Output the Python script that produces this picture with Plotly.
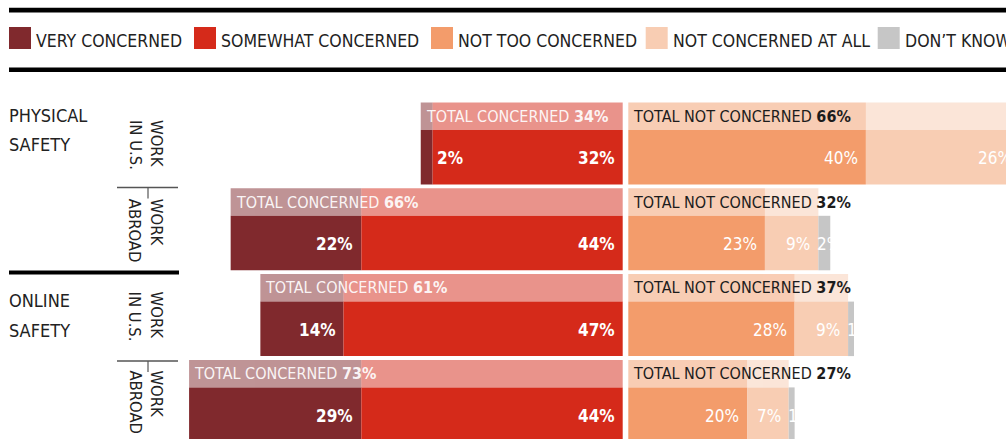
import plotly.graph_objects as go

# Share of respondents (%) by level of concern
row_labels = ["WORK<br>IN U.S.", "WORK<br>ABROAD", "WORK<br>IN U.S.", "WORK<br>ABROAD"]
group_labels = [["PHYSICAL", "SAFETY"], ["ONLINE", "SAFETY"]]
very_concerned = [2, 22, 14, 29]
somewhat_concerned = [32, 44, 47, 44]
not_too_concerned = [40, 23, 28, 20]
not_concerned_at_all = [26, 9, 9, 7]
dont_know = [0, 2, 1, 1]

categories = ["VERY CONCERNED", "SOMEWHAT CONCERNED", "NOT TOO CONCERNED",
              "NOT CONCERNED AT ALL", "DON\u2019T KNOW"]
colors = ["#80292d", "#d52a1a", "#f39c6b", "#f8cdb3", "#c6c6c6"]

FONT = "DejaVu Sans Condensed, Liberation Sans Narrow, Roboto, sans-serif"
W, H = 1006, 439


def px(x):
    return x / W


def py(y):
    return 1 - y / H


# axis geometry (pixels)
ZERO_PX = 622.7      # right edge of the "concerned" side
SCALE = 5.94         # pixels per percentage point
GAP = 5.6 / SCALE    # white gutter between the two sides
X_MIN, X_MAX = -ZERO_PX / SCALE, (W - ZERO_PX) / SCALE
ROW_TOP = 102.5
PITCH = 85.8
BAND_W = 27.5 / PITCH
MAIN_W = 54.5 / PITCH
band_off = 13.75 / PITCH
main_off = (27.5 + 27.25) / PITCH

n = len(row_labels)
y_band = [i + band_off for i in range(n)]
y_main = [i + main_off for i in range(n)]
y_center = [i + 42.5 / PITCH for i in range(n)]

# stacked extents: concerned grows leftwards from zero, the rest rightwards from the gutter
total_concerned = [v + s for v, s in zip(very_concerned, somewhat_concerned)]
total_not = [a + b for a, b in zip(not_too_concerned, not_concerned_at_all)]
base_very = [-t for t in total_concerned]
base_some = [-s for s in somewhat_concerned]
base_nottoo = [GAP] * n
base_notall = [GAP + a for a in not_too_concerned]
base_dk = [GAP + t for t in total_not]

series = [
    (very_concerned, base_very),
    (somewhat_concerned, base_some),
    (not_too_concerned, base_nottoo),
    (not_concerned_at_all, base_notall),
    (dont_know, base_dk),
]

fig = go.Figure()

# main bars
for k, (vals, bases) in enumerate(series):
    fig.add_trace(go.Bar(
        orientation="h", y=y_main, x=vals, base=bases, width=MAIN_W,
        marker=dict(color=colors[k], line=dict(width=0)),
        name=categories[k], hoverinfo="skip", showlegend=False,
    ))

# lighter "total" band above each bar
for k, (vals, bases) in enumerate(series[:4]):
    fig.add_trace(go.Bar(
        orientation="h", y=y_band, x=vals, base=bases, width=BAND_W,
        marker=dict(color=colors[k], line=dict(width=0)), opacity=0.5,
        hoverinfo="skip", showlegend=False,
    ))

annotations = []

# value labels inside the segments
for k, (vals, bases) in enumerate(series):
    for i in range(n):
        v = vals[i]
        if v <= 0:
            continue
        end = bases[i] + v
        if k == 4:
            # narrow last segment: label starts at its left edge
            x, anchor, shift = bases[i], "left", -3
        elif v < 4:
            x, anchor, shift = end, "left", 2
        else:
            # segments running past the frame keep their label at the true end
            x = min(end, X_MAX)
            anchor, shift = "right", -6 + (end - x) * SCALE
        annotations.append(dict(
            x=x, y=y_main[i], xref="x", yref="y", text=f"{v}%",
            xanchor=anchor, yanchor="middle", xshift=shift, yshift=-1,
            showarrow=False,
            font=dict(family=FONT, size=17, color="white",
                      weight="bold" if k < 2 else "normal"),
        ))

# totals written in the band
for i in range(n):
    annotations.append(dict(
        x=base_very[i], y=y_band[i], xref="x", yref="y",
        text=f"TOTAL CONCERNED <b>{total_concerned[i]}%</b>",
        xanchor="left", yanchor="middle", xshift=3, showarrow=False,
        font=dict(family=FONT, size=16, color="rgba(255,255,255,0.92)"),
    ))
    annotations.append(dict(
        x=GAP, y=y_band[i], xref="x", yref="y",
        text=f"TOTAL NOT CONCERNED <b>{total_not[i]}%</b>",
        xanchor="left", yanchor="middle", xshift=3, showarrow=False,
        font=dict(family=FONT, size=16, color="#1c1c1c"),
    ))

# rotated row labels
for i in range(n):
    annotations.append(dict(
        x=px(146), y=y_center[i], xref="paper", yref="y", text=row_labels[i],
        textangle=90, align="left", xanchor="center", yanchor="middle",
        showarrow=False, font=dict(family=FONT, size=16.5, color="#222"),
    ))

# group labels
group_line_y = [[115.8, 144.8], [300.8, 330.0]]
for g, lines in enumerate(group_labels):
    for j, t in enumerate(lines):
        annotations.append(dict(
            x=px(7), y=py(group_line_y[g][j]), xref="paper", yref="paper",
            text=t, xanchor="left", yanchor="middle", showarrow=False,
            font=dict(family=FONT, size=18, color="#222"),
        ))

shapes = []
# legend
legend_x = [9, 194, 431, 645.7, 877.7]
for k, lx in enumerate(legend_x):
    shapes.append(dict(type="rect", xref="paper", yref="paper",
                       x0=px(lx), x1=px(lx + 22), y0=py(49), y1=py(27),
                       fillcolor=colors[k], line=dict(width=0)))
    annotations.append(dict(
        x=px(lx + 25), y=py(41), xref="paper", yref="paper",
        text=categories[k], xanchor="left", yanchor="middle", showarrow=False,
        font=dict(family=FONT, size=17.5, color="#222"),
    ))

# heavy rules
for (x0, x1, y0, y1) in [(9, W + 2, 7.8, 12.4), (9, W + 2, 67.4, 72.0),
                         (9, 179, 270.5, 274.5)]:
    shapes.append(dict(type="rect", xref="paper", yref="paper",
                       x0=px(x0), x1=px(x1), y0=py(y1), y1=py(y0),
                       fillcolor="black", line=dict(width=0)))

# thin dividers between the two row labels of a group
for sy in [187.5, 361.0]:
    shapes.append(dict(type="line", xref="paper", yref="paper",
                       x0=px(117), x1=px(178), y0=py(sy), y1=py(sy),
                       line=dict(color="#555", width=1.5)))
    shapes.append(dict(type="line", xref="paper", yref="paper",
                       x0=px(148), x1=px(148), y0=py(sy), y1=py(sy + 11),
                       line=dict(color="#555", width=1.2)))

fig.update_layout(
    width=W, height=H, barmode="overlay",
    margin=dict(l=0, r=0, t=0, b=0, pad=0),
    paper_bgcolor="white", plot_bgcolor="white",
    xaxis=dict(range=[X_MIN, X_MAX], visible=False, fixedrange=True),
    yaxis=dict(range=[(H - ROW_TOP) / PITCH, -ROW_TOP / PITCH], visible=False,
               fixedrange=True),
    shapes=shapes, annotations=annotations, showlegend=False,
    font=dict(family=FONT),
)

fig.write_html("out.html")
